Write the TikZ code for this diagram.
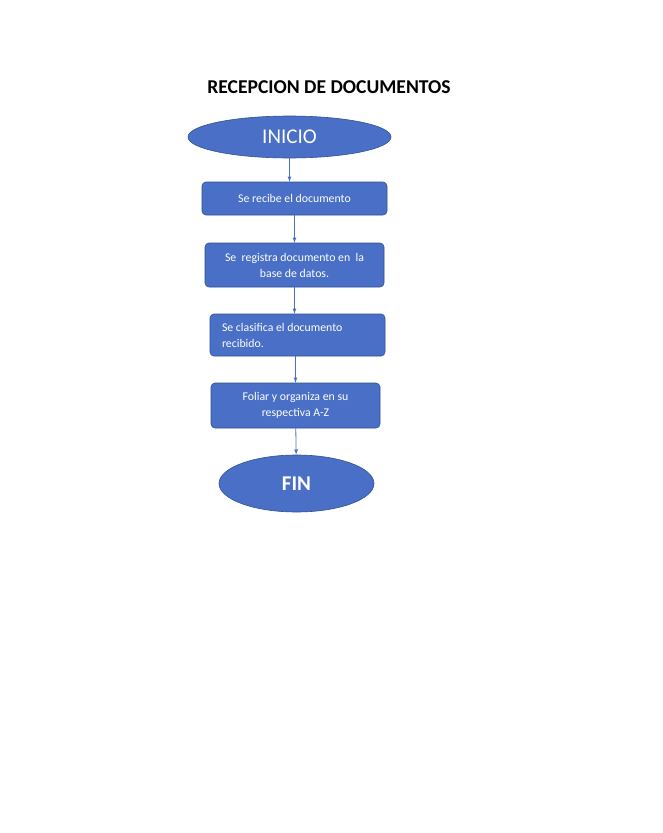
\documentclass[tikz,border=0pt]{standalone}
\usepackage{fontspec}
\setmainfont{Carlito}
\usepackage{xcolor}
\usepackage{tikz}
\usetikzlibrary{arrows}
\usetikzlibrary{arrows.meta}
\usetikzlibrary{shapes}
\usetikzlibrary{shapes.geometric}
\definecolor{boxblue}{HTML}{4A6FC6}
\definecolor{edgeblue}{HTML}{2F528F}
\tikzset{>=latex}
\tikzstyle{term} = [ellipse, draw = edgeblue, fill = boxblue, text = white, inner sep = 0, line width = .6pt]
\tikzstyle{paso} = [rectangle, rounded corners = 4pt, draw = edgeblue, fill = boxblue, text = white, inner sep = 2, line width = .6pt, font = \fontsize{11.8}{16}\selectfont]
\tikzstyle{flecha} = [-latex, draw = boxblue, line width = .8pt]

\begin{document}
\begin{tikzpicture}[x = 1pt, y = -1pt]
\useasboundingbox (0, 0) rectangle (663, 833);
\fill [white] (0, 0) rectangle (663, 833);
\node [draw=none, font = \fontsize{19.6}{22}\selectfont\bfseries]  (T) at (329, 87) {RECEPCION DE DOCUMENTOS};
\node [term, minimum width = 203, minimum height = 42, font = \fontsize{21}{24}\selectfont]  (I) at (289.5, 137) {INICIO};
\node [paso, minimum width = 185, minimum height = 33]  (R) at (294.5, 198.5) {Se recibe el documento};
\node [paso, minimum width = 179, minimum height = 44, align = center]  (B) at (294.5, 265) {Se\ \ registra documento en\ \ la\\base de datos.};
\node [paso, minimum width = 175, minimum height = 42, text width = 151, inner xsep = 12, align = flush left]  (C) at (297.5, 335) {Se clasifica el documento\\recibido.};
\node [paso, minimum width = 169, minimum height = 45, align = center]  (F) at (295.5, 405.5) {Foliar y organiza en su\\respectiva A-Z};
\node [term, minimum width = 155, minimum height = 57, font = \fontsize{21}{24}\selectfont\bfseries]  (E) at (296.5, 483.5) {FIN};
\draw [flecha] (I) to (I |- R.north);
\draw [flecha] (R.south -| B) to (B);
\draw [flecha] (B) to (B |- C.north);
\draw [flecha] (C.south -| F) to (F);
\draw [flecha] (F) to (E);
\end{tikzpicture}
\end{document}
